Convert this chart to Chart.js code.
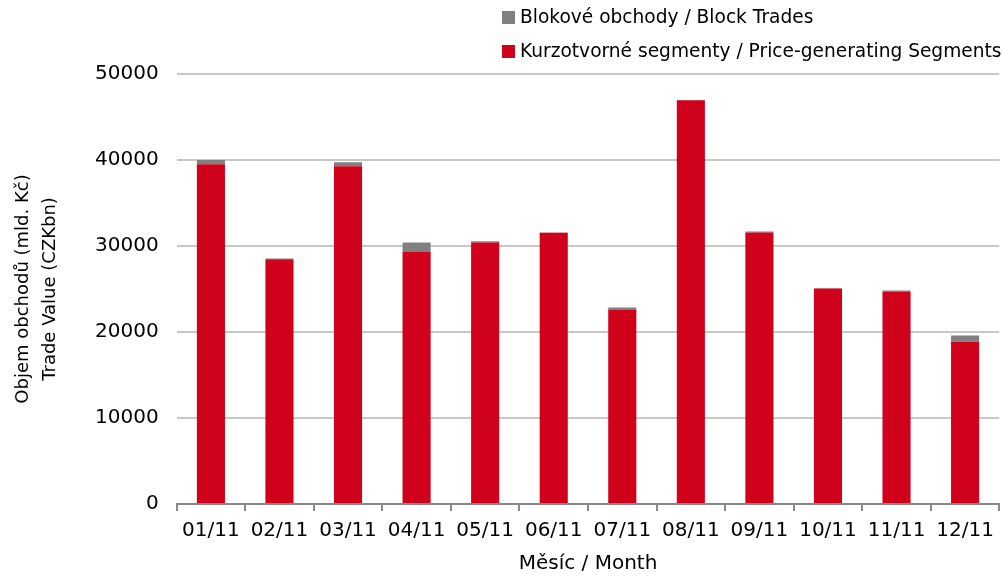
<!DOCTYPE html>
<html>
<head>
<meta charset="utf-8">
<script src="https://cdn.jsdelivr.net/npm/chart.js@4/dist/chart.umd.min.js"></script>
<style>
  html, body { margin: 0; padding: 0; background: #fff; }
  #wrap { width: 1002px; height: 576px; }
</style>
</head>
<body>
<div id="wrap"><canvas id="myChart"></canvas></div>
<script>
'use strict';

// **************************** DATA ****************************

let months = ['01/11', '02/11', '03/11', '04/11', '05/11', '06/11', '07/11', '08/11', '09/11', '10/11', '11/11', '12/11'];
let priceSegments = [39500, 28450, 39280, 29370, 30420, 31550, 22610, 46950, 31580, 25060, 24710, 18880];
let blockTrades = [500, 100, 460, 1050, 120, 30, 230, 20, 120, 20, 120, 700];
let yTicks = [0, 10000, 20000, 30000, 40000, 50000];

let priceLabel = 'Kurzotvorné segmenty / Price-generating Segments';
let blockLabel = 'Blokové obchody / Block Trades';

const FONT = 'DejaVu Sans, sans-serif';

// **************************** LEGEND PLUGIN ****************************

// stacked legend, one item per row, top right
let columnLegend = {
  id: 'columnLegend',
  afterDraw(chart) {
    let c = chart.ctx;
    let sets = chart.data.datasets.slice().reverse();
    c.save();
    c.font = '18.6px ' + FONT;
    c.textBaseline = 'middle';
    c.textAlign = 'left';
    for (let i = 0; i < sets.length; i++) {
      let y = 17 + i * 34;
      c.fillStyle = sets[i].backgroundColor;
      c.fillRect(502, y - 6, 13, 13);
      c.fillStyle = '#000';
      c.fillText(sets[i].label, 520, y + 1);
    }
    c.restore();
  }
};

// **************************** CHART ****************************

let ctx = document.getElementById('myChart');

new Chart(ctx, {
  type: 'bar',
  data: {
    labels: months,
    datasets: [{
      label: priceLabel,
      data: priceSegments,
      backgroundColor: '#d0011b',
      barPercentage: 0.41,
      categoryPercentage: 1.0
    },
    {
      label: blockLabel,
      data: blockTrades,
      backgroundColor: '#808080',
      barPercentage: 0.41,
      categoryPercentage: 1.0
    }]
  },
  options: {
    responsive: true,
    maintainAspectRatio: false,
    animation: false,
    layout: { padding: { top: 74, right: 2, left: 6, bottom: 0 } },
    plugins: {
      legend: { display: false },
      tooltip: { enabled: false }
    },
    scales: {
      x: {
        stacked: true,
        grid: { drawOnChartArea: false, drawTicks: true, tickLength: 7, color: '#888', lineWidth: 2, offset: true },
        border: { color: '#888', width: 2 },
        ticks: { color: '#000', font: { family: FONT, size: 20 }, padding: 8 },
        title: { display: true, text: 'Měsíc / Month', color: '#000', font: { family: FONT, size: 20 }, padding: { top: 1, bottom: 0 } }
      },
      y: {
        stacked: true,
        min: 0,
        max: 50000,
        afterBuildTicks(axis) {
          axis.ticks = yTicks.map(v => ({ value: v }));
        },
        grid: { color: '#c8c8c8', lineWidth: 2, drawTicks: false },
        border: { display: false },
        ticks: {
          color: '#000',
          font: { family: FONT, size: 20 },
          padding: 18,
          callback: v => String(v)
        },
        title: {
          display: true,
          text: ['Objem obchodů (mld. Kč)', 'Trade Value (CZKbn)'],
          color: '#000',
          font: { family: FONT, size: 18, lineHeight: 1.5 },
          padding: { bottom: 13 }
        }
      }
    }
  },
  plugins: [columnLegend]
});
</script>
</body>
</html>
